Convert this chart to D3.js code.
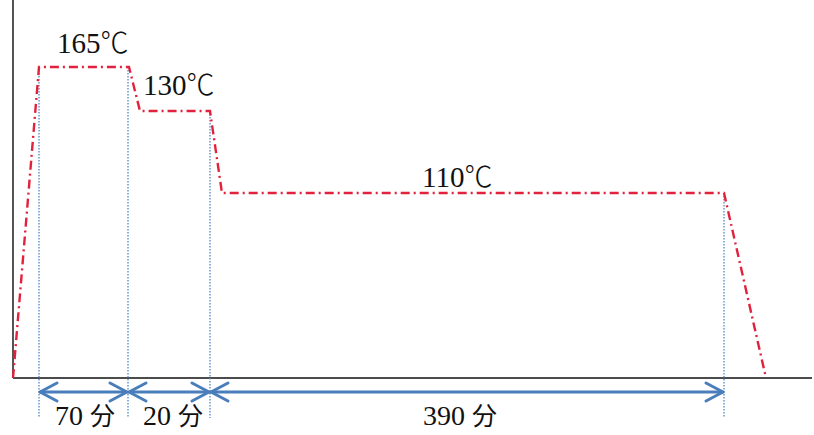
<!DOCTYPE html>
<html><head><meta charset="utf-8">
<script src="https://cdn.jsdelivr.net/npm/d3@7"></script>
<style>html,body{margin:0;padding:0;background:#fff;}</style>
</head><body>
<script>
// schematic profile: x in layout units (not to scale), level in layout units
const profileX = [0, 26, 116, 127, 197, 209, 711, 753];
const profileLevel = [0, 311, 311, 267, 267, 185, 185, 0];
const tempValues = ["165", "130", "110"];
const tempUnit = "℃";
const tempLabelPos = [[44, 325], [130, 283], [409, 191]];
// phase boundaries (x units) and durations
const phaseBounds = [26, 115, 197, 711];
const phaseStartLevel = [311, 311, 267, 185];
const durationValues = ["70", "20", "390"];
const durationUnit = "分";
const durationLabelX = [42, 130, 410];

const W = 814, H = 435;
const svg = d3.select("body").append("svg").attr("width", W).attr("height", H);
const x = d3.scaleLinear().domain([0, 800]).range([13, 813]);
const y = d3.scaleLinear().domain([0, 378]).range([378, 0]);
const serif = "'Liberation Serif'";
const cjk = "'Noto Sans CJK JP'";

// axes
svg.append("line").attr("x1", x(0)).attr("x2", x(0)).attr("y1", y(378)).attr("y2", y(0))
  .attr("stroke", "#555").attr("stroke-width", 2);
svg.append("line").attr("x1", x(0)).attr("x2", x(799)).attr("y1", y(0)).attr("y2", y(0))
  .attr("stroke", "#111").attr("stroke-width", 1.5);

// blue dotted guides
phaseBounds.forEach((b, i) => {
  svg.append("line").attr("x1", x(b)).attr("x2", x(b))
    .attr("y1", y(phaseStartLevel[i])).attr("y2", y(-40))
    .attr("stroke", "#5b8fc9").attr("stroke-width", 1.4).attr("stroke-dasharray", "1.5,1.5");
});

// red profile
const pts = profileX.map((v, i) => [x(v), y(profileLevel[i])]);
svg.append("path").attr("d", d3.line()(pts)).attr("fill", "none")
  .attr("stroke", "#e2213c").attr("stroke-width", 2.4)
  .attr("stroke-dasharray", "9,4,2,4");

// arrows
const ay = y(-14);
const blue = "#4a7ebb";
for (let i = 0; i < 3; i++) {
  const a = x(phaseBounds[i]) + 1, b = x(phaseBounds[i + 1]) - 1;
  const g = svg.append("g").attr("stroke", blue).attr("stroke-width", 3).attr("fill", "none")
    .attr("stroke-linecap", "round").attr("stroke-linejoin", "round");
  g.append("line").attr("x1", a).attr("x2", b).attr("y1", ay).attr("y2", ay);
  g.append("path").attr("d", `M${a+17},${ay-9}L${a},${ay}L${a+17},${ay+9}`);
  g.append("path").attr("d", `M${b-17},${ay-9}L${b},${ay}L${b-17},${ay+9}`);
  const t = svg.append("text").attr("x", x(durationLabelX[i])).attr("y", 425)
    .attr("font-size", 28).attr("fill", "#111");
  t.append("tspan").attr("font-family", serif).text(durationValues[i]);
  t.append("tspan").attr("font-family", serif).text(" ");
  t.append("tspan").attr("font-family", cjk).attr("font-size", 25).text(durationUnit);
}

// temperature labels
tempValues.forEach((v, i) => {
  const t = svg.append("text").attr("x", x(tempLabelPos[i][0])).attr("y", y(tempLabelPos[i][1]))
    .attr("font-size", 29).attr("fill", "#111");
  t.append("tspan").attr("font-family", serif).text(v);
  t.append("tspan").attr("font-family", cjk).attr("font-size", 28).attr("font-weight", 300).text(tempUnit);
});
</script>
</body></html>
